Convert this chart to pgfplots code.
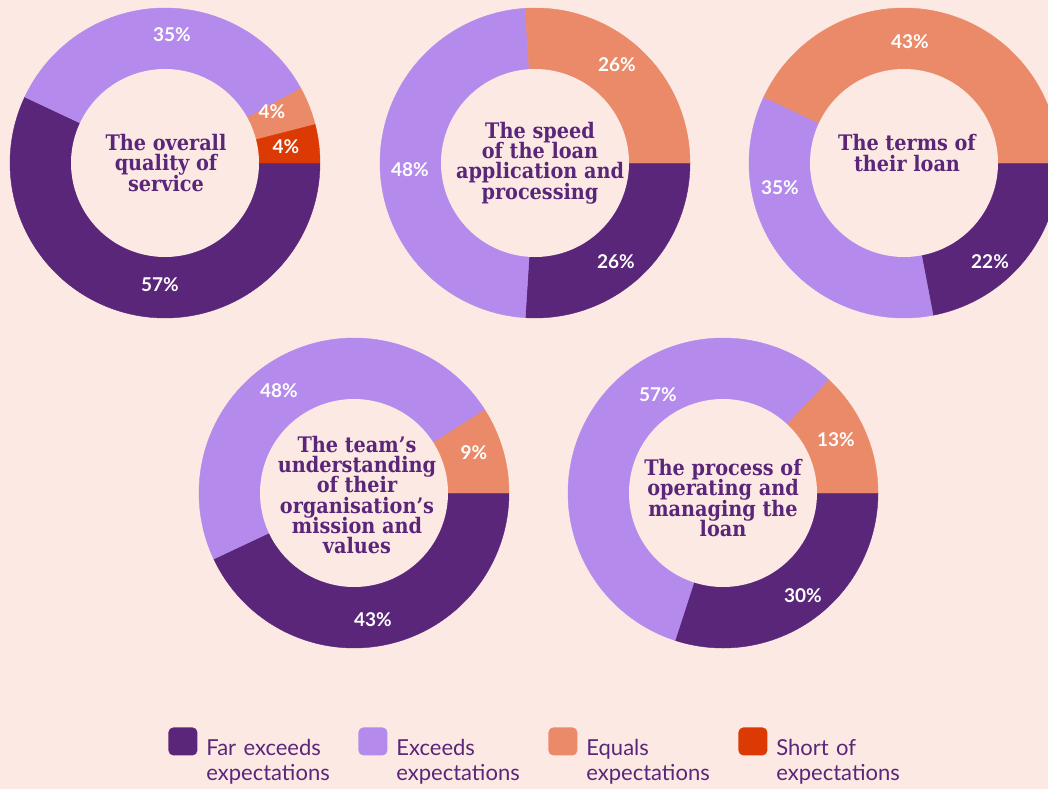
\documentclass[border=0pt]{standalone}
\usepackage{fontspec}
\setmainfont{Lato}
\newfontfamily\slab{DejaVu Serif Condensed}
\usepackage{pgfplots}
\pgfplotsset{compat=1.18}
\definecolor{bgc}{HTML}{FDE9E4}
\definecolor{cdark}{HTML}{5A2679}
\definecolor{clight}{HTML}{B48AEC}
\definecolor{csalmon}{HTML}{EA8A68}
\definecolor{cred}{HTML}{DC3A04}
% slice: {cx}{cy}{from %}{to %}{colour}, clockwise from 3 o'clock
\newcommand{\slice}[5]{%
  \addplot[forget plot, fill=#5, draw=#5, line width=0.2pt, domain=-3.6*#4:-3.6*#3, samples=121, variable=\t]
    ({#1+155*cos(\t)}, {#2+155*sin(\t)}) -- (axis cs:#1,#2) -- cycle;}
\newcommand{\hole}[2]{%
  \addplot[forget plot, fill=bgc, draw=none, domain=0:360, samples=181, variable=\t]
    ({#1+94*cos(\t)}, {#2+94*sin(\t)}) -- cycle;}
\begin{document}
\lineskiplimit=-20pt
\begin{tikzpicture}[
  pct/.style={text=white, font=\fontsize{9.5}{11}\selectfont\bfseries},
  ctr/.style={text=cdark, align=center, font=\slab\bfseries\fontsize{10.7}{10.1}\selectfont}]
\fill[bgc] (0,0) rectangle (524pt,394.5pt);
\useasboundingbox (0,0) rectangle (524pt,394.5pt);
\begin{axis}[at={(0,0)}, anchor=south west, scale only axis,
  width=524pt, height=394.5pt, xmin=0, xmax=1048, ymin=0, ymax=789,
  hide axis, clip=true,
  legend image code/.code={\fill[#1, draw=none, rounded corners=2.5pt] (0pt,-3.5pt) rectangle (14.5pt,10.5pt);},
  legend cell align=left,
  legend style={at={(axis cs:168,62)}, anchor=north west, draw=none, fill=none,
    inner sep=0pt, legend columns=4, text=cdark,
    font=\fontsize{11}{12.5}\selectfont,
    nodes={text width=71.5pt, align=left, inner xsep=4.5pt, inner ysep=0pt}}]
% Chart 1: The overall quality of service (57, 35, 4, 4)
\slice{165}{626}{0}{57}{cdark}
\slice{165}{626}{57}{92}{clight}
\slice{165}{626}{92}{96}{csalmon}
\slice{165}{626}{96}{100}{cred}
\hole{165}{626}
% Chart 2: speed (26, 48, 26)
\slice{535}{626}{0}{26}{cdark}
\slice{535}{626}{26}{74}{clight}
\slice{535}{626}{74}{100}{csalmon}
\hole{535}{626}
% Chart 3: terms (22, 35, 43)
\slice{904}{626}{0}{22}{cdark}
\slice{904}{626}{22}{57}{clight}
\slice{904}{626}{57}{100}{csalmon}
\hole{904}{626}
% Chart 4: team's understanding (43, 48, 9)
\slice{354}{296}{0}{43}{cdark}
\slice{354}{296}{43}{91}{clight}
\slice{354}{296}{91}{100}{csalmon}
\hole{354}{296}
% Chart 5: process (30, 57, 13)
\slice{723}{296}{0}{30}{cdark}
\slice{723}{296}{30}{87}{clight}
\slice{723}{296}{87}{100}{csalmon}
\hole{723}{296}
% labels
\node[pct] at (axis cs:172,754) {35\%};
\node[pct] at (axis cs:272,677) {4\%};
\node[pct] at (axis cs:286,642) {4\%};
\node[pct] at (axis cs:160,504) {57\%};
\node[pct] at (axis cs:617,724) {26\%};
\node[pct] at (axis cs:410,619) {48\%};
\node[pct] at (axis cs:616,527) {26\%};
\node[pct] at (axis cs:910,747) {43\%};
\node[pct] at (axis cs:780,601) {35\%};
\node[pct] at (axis cs:990,527) {22\%};
\node[pct] at (axis cs:279,398) {48\%};
\node[pct] at (axis cs:474,336) {9\%};
\node[pct] at (axis cs:373,169) {43\%};
\node[pct] at (axis cs:658,394) {57\%};
\node[pct] at (axis cs:836,349) {13\%};
\node[pct] at (axis cs:803,193) {30\%};
% centre titles
\node[ctr] at (axis cs:166,626) {The overall\\quality of\\service};
\node[ctr] at (axis cs:540,626) {The speed\\of the loan\\application and\\processing};
\node[ctr] at (axis cs:907,636) {The terms of\\their loan};
\node[ctr] at (axis cs:357,294) {The team’s\\understanding\\of their\\organisation’s\\mission and\\values};
\node[ctr] at (axis cs:723,291) {The process of\\operating and\\managing the\\loan};
% legend
\addlegendimage{fill=cdark}
\addlegendentry{Far exceeds\\expectations}
\addlegendimage{fill=clight}
\addlegendentry{Exceeds\\expectations}
\addlegendimage{fill=csalmon}
\addlegendentry{Equals\\expectations}
\addlegendimage{fill=cred}
\addlegendentry{Short of\\expectations}
\end{axis}
\end{tikzpicture}
\end{document}
